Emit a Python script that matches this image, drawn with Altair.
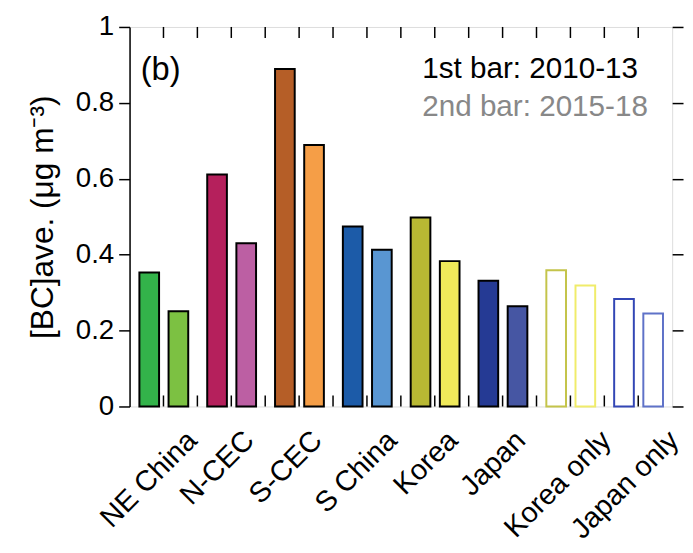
import altair as alt
import pandas as pd

# ---------------- data ----------------
regions = ["NE China", "N-CEC", "S-CEC", "S China", "Korea", "Japan", "Korea only", "Japan only"]
bc_2010_13 = [0.353, 0.611, 0.889, 0.474, 0.498, 0.331, 0.359, 0.283]
bc_2015_18 = [0.251, 0.430, 0.689, 0.413, 0.383, 0.264, 0.319, 0.245]
colors_2010_13 = ["#33b34a", "#b5205c", "#b55e27", "#1c5ba8", "#b8b833", "#253a94", "#c4c44a", "#3346b5"]
colors_2015_18 = ["#7cc142", "#bc5fa3", "#f59e47", "#5996d2", "#f0ea5a", "#4656a3", "#f0ec6a", "#5f72c8"]
outline_only = [False, False, False, False, False, False, True, True]
minor_ticks = list(range(1, 16))
y_ticks = [0, 0.2, 0.4, 0.6, 0.8, 1.0]
legend_1 = "1st bar: 2010-13"
legend_2 = "2nd bar: 2015-18"
panel_tag = "(b)"
y_title = "[BC]ave.  (\u03bcg m\u207b\u00b3)"

rows = []
for i, r in enumerate(regions):
    for p, (vals, cols) in enumerate([(bc_2010_13, colors_2010_13), (bc_2015_18, colors_2015_18)]):
        rows.append(dict(region=r, idx=i, period=p, value=vals[i], color=cols[i], outline=outline_only[i]))
df = pd.DataFrame(rows)
labels_df = pd.DataFrame({"region": regions, "idx": list(range(len(regions)))})
ticks_df = pd.DataFrame({"t": minor_ticks})

FONT = "Liberation Sans"
W, H = 549, 384
xscale = alt.Scale(domain=[0, 16], nice=False, zero=False)
def yscale():
    return alt.Scale(domain=[0, 1], nice=False, zero=False)

bars = alt.Chart(df).transform_calculate(
    center="2 * datum.idx + 1 + (datum.period == 0 ? -0.42 : 0.44)",
    x0="datum.center - 0.29",
    x1="datum.center + 0.29",
    fillc="datum.outline ? 'white' : datum.color",
    strokec="datum.outline ? datum.color : 'black'",
    y0="0",
).mark_bar(strokeWidth=2).encode(
    x=alt.X("x0:Q", scale=xscale, axis=alt.Axis(
        orient="bottom", labels=False, ticks=False, grid=False, title=None,
        domainColor="black", domainWidth=1.5)),
    x2="x1:Q",
    y=alt.Y("value:Q", scale=yscale(), axis=alt.Axis(
        orient="left", values=y_ticks, format="~g",
        labelFontSize=28, labelFont=FONT, labelColor="black", labelPadding=5,
        tickSize=11, tickColor="black", tickWidth=1.5,
        domainColor="black", domainWidth=1.5, grid=False,
        title=y_title, titleFont=FONT, titleFontSize=32, titleFontWeight="normal",
        titleColor="black", titlePadding=16)),
    y2="y0:Q",
    fill=alt.Fill("fillc:N", scale=None),
    stroke=alt.Stroke("strokec:N", scale=None),
)

right_axis = alt.Chart(df).mark_point(opacity=0).encode(
    y=alt.Y("value:Q", scale=yscale(), axis=alt.Axis(
        orient="right", values=y_ticks, labels=False, tickSize=11,
        tickColor="black", tickWidth=1.5, domain=False, grid=False, title=None)),
)

bottom_ticks = alt.Chart(ticks_df).mark_rule(color="black", strokeWidth=1.5).encode(
    x=alt.X("t:Q", scale=xscale, axis=None),
    y=alt.YDatum(0, scale=yscale(), axis=None),
    y2=alt.Y2Datum(0.029),
)
top_ticks = alt.Chart(ticks_df).mark_rule(color="black", strokeWidth=1.5).encode(
    x=alt.X("t:Q", scale=xscale, axis=None),
    y=alt.YDatum(1, scale=yscale(), axis=None),
    y2=alt.Y2Datum(0.971),
)

xlabels = alt.Chart(labels_df).transform_calculate(
    lx="2 * datum.idx + 1 + 0.72 + 0.105 * (length(datum.region) - 5)"
).mark_text(
    angle=315, align="right", baseline="alphabetic", fontSize=29, font=FONT, color="black"
).encode(
    x=alt.X("lx:Q", scale=xscale, axis=None),
    y=alt.YDatum(-0.094, scale=yscale(), axis=None),
    text="region:N",
)

tag = alt.Chart(ticks_df).transform_filter("datum.t == 1").mark_text(
    text=panel_tag, align="left", baseline="middle", fontSize=33, font=FONT, color="black"
).encode(x=alt.XDatum(0.33, scale=xscale, axis=None), y=alt.YDatum(0.885, scale=yscale(), axis=None))

leg1 = alt.Chart(ticks_df).transform_filter("datum.t == 1").mark_text(
    text=legend_1, align="left", baseline="middle", fontSize=30, font=FONT, color="black"
).encode(x=alt.XDatum(8.63, scale=xscale, axis=None), y=alt.YDatum(0.888, scale=yscale(), axis=None))

leg2 = alt.Chart(ticks_df).transform_filter("datum.t == 1").mark_text(
    text=legend_2, align="left", baseline="middle", fontSize=30, font=FONT, color="#888888"
).encode(x=alt.XDatum(8.63, scale=xscale, axis=None), y=alt.YDatum(0.79, scale=yscale(), axis=None))

chart = alt.layer(bars, right_axis, bottom_ticks, top_ticks, xlabels, tag, leg1, leg2).resolve_scale(
    y="independent"
).properties(
    width=W, height=H, padding={"left": 19, "top": 2, "right": 0, "bottom": 0}
).configure_view(stroke="black", strokeWidth=1.5).configure(background="white")

chart.save("out.html", embed_options={"renderer": "svg", "actions": False})
